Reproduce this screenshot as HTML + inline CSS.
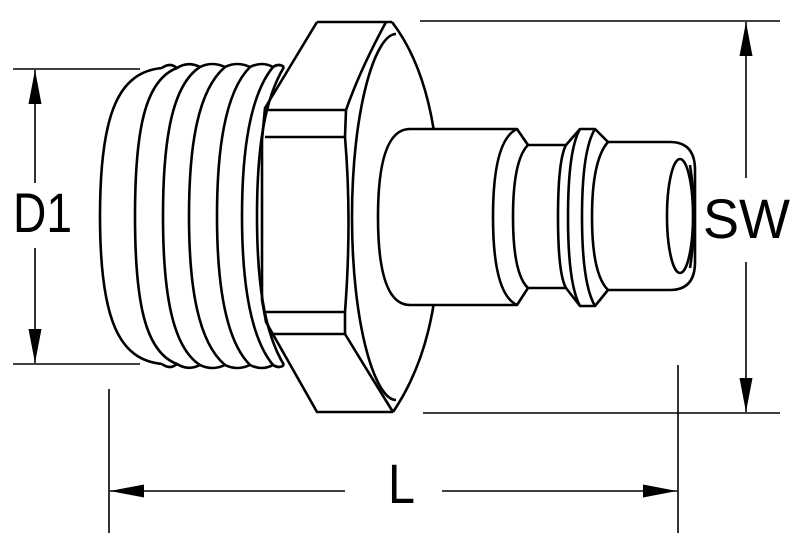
<!DOCTYPE html>
<html><head><meta charset="utf-8"><style>
html,body{margin:0;padding:0;background:#fff;}
svg{display:block;}
text{font-family:"Liberation Sans",Arial,sans-serif;fill:#000;}
</style></head><body>
<svg width="800" height="533" viewBox="0 0 800 533" xmlns="http://www.w3.org/2000/svg">
<defs>
<marker id="ar" viewBox="0 0 10 10" refX="10" refY="5" markerWidth="34" markerHeight="13" markerUnits="userSpaceOnUse" orient="auto" preserveAspectRatio="none"><path d="M0,0 L10,5 L0,10 Z" fill="#000"/></marker>
</defs>
<g fill="none" stroke="#000" stroke-width="1.6">
<line x1="13" y1="69" x2="140" y2="69"/>
<line x1="13" y1="364" x2="140" y2="364"/>
<line x1="35" y1="183" x2="35" y2="70" marker-end="url(#ar)"/>
<line x1="35" y1="248" x2="35" y2="363" marker-end="url(#ar)"/>
<line x1="420" y1="21" x2="780" y2="21"/>
<line x1="423" y1="413" x2="780" y2="413"/>
<line x1="746" y1="178" x2="746" y2="22" marker-end="url(#ar)"/>
<line x1="746" y1="262" x2="746" y2="412" marker-end="url(#ar)"/>
<line x1="109" y1="389" x2="109" y2="533"/>
<line x1="678" y1="365" x2="678" y2="533"/>
<line x1="345" y1="491" x2="110" y2="491" marker-end="url(#ar)"/>
<line x1="442" y1="491" x2="677" y2="491" marker-end="url(#ar)"/>
</g>
<text x="13" y="232" font-size="56" textLength="59" lengthAdjust="spacingAndGlyphs">D1</text>
<text x="703" y="238" font-size="56" textLength="87" lengthAdjust="spacingAndGlyphs">SW</text>
<text x="388" y="503" font-size="56" textLength="27" lengthAdjust="spacingAndGlyphs">L</text>

<g fill="none" stroke="#000" stroke-width="2.6" stroke-linejoin="round">
<path d="M162,68 C120,72 100,110 100,216 C100,322 120,360 162,364"/>
<path d="M177,68 C145,80 135,130 135,216 C135,302 145,352 177,364"/>
<path d="M200,67 C172,85 163,140 163,216 C163,292 172,347 200,365"/>
<path d="M225,67 C198,90 189,145 189,216 C189,287 198,342 225,365"/>
<path d="M250,67 C225,92 217,150 217,216 C217,282 225,340 250,365"/>
<path d="M273,67 C250,95 242,150 242,216 C242,282 250,337 273,365"/>
<path d="M284,67 C264,100 257,150 257,216 C257,282 264,332 284,365"/>
<path d="M162,68 Q170,62 177,68 Q188,61 200,67 Q212,61 225,67 Q237,61 250,67 Q262,61 273,67 Q279,63 284,67"/>
<path d="M162,364 Q170,370 177,364 Q188,371 200,365 Q212,371 225,365 Q237,371 250,365 Q262,371 273,365 Q279,369 284,365"/>
<path d="M317,22 L392,22 M317,22 L265,108 L262,140 L262,300 L266,322 L317,412 L393,412"/>
<path d="M265,110 L346,110 L345,137 L265,137"/>
<path d="M266,312 L345,312 L345,334 L270,334"/>
<path d="M386,22 Q360,70 346,110"/>
<path d="M345,137 Q352,220 345,312"/>
<path d="M345,334 Q370,375 393,412"/>
<path d="M392,22 C425,65 440,130 440,217 C440,305 425,365 393,412"/>
<path d="M396,34 C375,34 352,110 352,217 C352,325 375,400 396,400"/>
</g>
<g fill="#fff" stroke="#000" stroke-width="2.6" stroke-linejoin="round">
<path d="M410,129 L517,129 L528,145 L566,145 L580,129 L595,129 L608,142 L670,142 Q695,142 695,170 L695,262 Q695,290 670,290 L608,290 L595,306 L580,306 L566,288 L528,288 L517,305 L410,305 Q378,305 378,217 Q378,129 410,129 Z"/>
</g>
<g fill="none" stroke="#000" stroke-width="2.6">
<path d="M517,129 Q493,140 493,217 Q493,294 517,305"/>
<path d="M528,145 Q513,160 513,217 Q513,274 528,288"/>
<path d="M566,145 Q558,160 558,217 Q558,274 566,288"/>
<path d="M580,129 Q568,150 568,217 Q568,284 580,306"/>
<path d="M595,129 Q582,150 582,217 Q582,284 595,306"/>
<path d="M608,142 Q592,160 592,217 Q592,274 608,290"/>
<ellipse cx="680" cy="216" rx="13" ry="57"/>
<path d="M690,165 Q698,216 690,268"/>
</g>
</svg>
</body></html>
